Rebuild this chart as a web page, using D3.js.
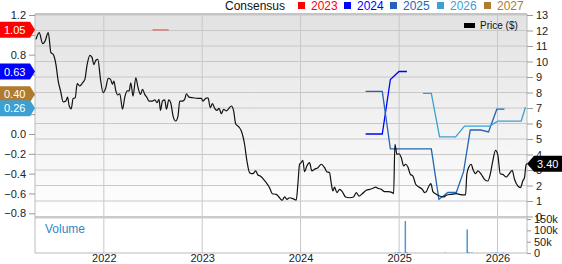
<!DOCTYPE html>
<html>
<head>
<meta charset="utf-8">
<script src="https://cdn.jsdelivr.net/npm/d3@7"></script>
<style>
  body { margin: 0; background: #fff; }
  svg { display: block; font-family: "Liberation Sans", Arial, sans-serif; }
</style>
</head>
<body>
<script>
// Zeitwerte als Dezimaljahre, Kurs in $
const priceData = [
  [2021.310, 11.43], [2021.343, 11.86], [2021.378, 11.15], [2021.401, 11.3], [2021.435, 11.86],
  [2021.462, 10.57], [2021.485, 10.46], [2021.513, 9.8], [2021.536, 8.74], [2021.560, 8.1],
  [2021.587, 7.39], [2021.614, 7.45], [2021.631, 7.7], [2021.648, 7.13], [2021.668, 6.95],
  [2021.688, 7.62], [2021.709, 7.66], [2021.729, 8.57], [2021.756, 8.42], [2021.784, 8.63],
  [2021.807, 8.85], [2021.830, 9.8], [2021.858, 10.4], [2021.881, 10.25], [2021.898, 9.8],
  [2021.919, 10.08], [2021.939, 10.14], [2021.966, 8.85], [2021.993, 7.99], [2022.020, 8.31],
  [2022.044, 8.92], [2022.068, 8.85], [2022.088, 8.53], [2022.102, 8.74], [2022.122, 8.1],
  [2022.142, 7.84], [2022.162, 7.92], [2022.190, 6.92], [2022.213, 7.7], [2022.237, 8.1],
  [2022.257, 8.1], [2022.274, 8.63], [2022.297, 7.77], [2022.325, 8.95], [2022.348, 8.31],
  [2022.373, 7.88], [2022.393, 8.21], [2022.416, 7.88], [2022.440, 7.66], [2022.460, 7.45],
  [2022.494, 7.45], [2022.518, 7.52], [2022.541, 7.34], [2022.561, 7.56], [2022.576, 6.85],
  [2022.596, 7.45], [2022.619, 7.52], [2022.637, 6.92], [2022.660, 7.52], [2022.680, 7.34],
  [2022.704, 6.48], [2022.731, 6.16], [2022.754, 6.48], [2022.772, 7.45], [2022.799, 7.45],
  [2022.822, 7.56], [2022.840, 7.92], [2022.866, 7.7], [2022.907, 7.66], [2022.957, 7.62],
  [2022.992, 7.62], [2023.008, 7.45], [2023.036, 7.62], [2023.059, 7.66], [2023.083, 7.02],
  [2023.104, 7.28], [2023.127, 6.98], [2023.150, 6.85], [2023.171, 6.98], [2023.195, 6.63],
  [2023.218, 6.92], [2023.246, 6.81], [2023.272, 6.98], [2023.296, 7.13], [2023.320, 6.81],
  [2023.340, 5.99], [2023.374, 5.77], [2023.398, 5.52], [2023.431, 4.66], [2023.455, 3.58],
  [2023.482, 2.83], [2023.516, 2.76], [2023.543, 2.94], [2023.567, 2.68], [2023.591, 2.61],
  [2023.624, 2.4], [2023.652, 2.18], [2023.685, 1.86], [2023.713, 1.47], [2023.753, 1.43],
  [2023.780, 1.26], [2023.814, 1.05], [2023.838, 1.26], [2023.861, 1.11], [2023.888, 1.21],
  [2023.922, 1.15], [2023.956, 1.06], [2023.973, 2.08], [2023.990, 3.37], [2024.007, 3.47],
  [2024.023, 3.63], [2024.041, 2.89], [2024.064, 3.26], [2024.091, 3.47], [2024.115, 2.94],
  [2024.142, 3.05], [2024.176, 3.15], [2024.210, 3.37], [2024.244, 3.15], [2024.267, 2.89],
  [2024.294, 2.83], [2024.312, 2.12], [2024.328, 1.65], [2024.345, 1.9], [2024.369, 1.54],
  [2024.396, 1.75], [2024.423, 1.6], [2024.457, 1.26], [2024.497, 1.21], [2024.538, 1.26],
  [2024.565, 1.54], [2024.592, 1.32], [2024.626, 1.47], [2024.667, 1.69], [2024.701, 1.75],
  [2024.734, 1.82], [2024.761, 1.9], [2024.785, 1.82], [2024.819, 1.75], [2024.853, 1.6],
  [2024.886, 1.6], [2024.931, 1.54], [2024.944, 1.47], [2024.957, 4.66], [2024.978, 4.01],
  [2024.998, 4.05], [2025.022, 3.79], [2025.046, 3.26], [2025.066, 3.37], [2025.089, 3.19],
  [2025.114, 2.72], [2025.140, 2.61], [2025.168, 2.08], [2025.201, 1.9], [2025.236, 1.75],
  [2025.259, 1.54], [2025.276, 1.6], [2025.303, 1.97], [2025.323, 2.12], [2025.343, 1.6],
  [2025.378, 1.43], [2025.411, 1.32], [2025.452, 1.26], [2025.485, 1.39], [2025.530, 1.43],
  [2025.581, 1.47], [2025.614, 1.43], [2025.648, 1.39], [2025.675, 1.39], [2025.688, 2.72],
  [2025.709, 3.19], [2025.733, 3.37], [2025.750, 3.05], [2025.777, 2.76], [2025.800, 2.94],
  [2025.835, 2.72], [2025.868, 2.4], [2025.902, 2.29], [2025.926, 2.72], [2025.952, 3.58],
  [2025.980, 4.27], [2026.003, 3.97], [2026.028, 2.76], [2026.054, 2.72], [2026.088, 2.55],
  [2026.115, 2.72], [2026.149, 2.98], [2026.173, 2.4], [2026.206, 1.97], [2026.234, 1.86],
  [2026.257, 2.29], [2026.274, 2.5], [2026.292, 3.37], [2026.300, 3.40]
];

// Konsens-Schätzungen (EPS) je Geschäftsjahr
const years = ["2023", "2024", "2025", "2026", "2027"];
const yearColors = ["#ff0000", "#0000ff", "#2166b5", "#3ca0d2", "#b07b2e"];
const est2023 = [[2022.495, 1.05], [2022.660, 1.05]];
const est2024 = [[2024.660, 0.0], [2024.829, 0.0], [2024.911, 0.55], [2024.998, 0.63], [2025.079, 0.63]];
const est2025 = [[2024.660, 0.43], [2024.829, 0.43], [2024.911, -0.15], [2025.327, -0.15], [2025.404, -0.66],
  [2025.495, -0.59], [2025.581, -0.59], [2025.655, -0.38], [2025.723, 0.04], [2025.830, 0.04],
  [2025.909, 0.02], [2025.993, 0.25], [2026.071, 0.25]];
const est2026 = [[2025.242, 0.41], [2025.327, 0.41], [2025.411, -0.03], [2025.574, -0.03], [2025.665, 0.08],
  [2025.919, 0.08], [2026.003, 0.13], [2026.241, 0.13], [2026.284, 0.27]];
const est2027 = [];
const estimates = [est2023, est2024, est2025, est2026, est2027];

// letzte Werte (Marker links)
const tagYears = ["2023", "2024", "2027", "2026"];
const tagValues = [1.05, 0.63, 0.40, 0.26];

// Handelsvolumen
const volumeData = [
  [2024.962, 3000], [2024.990, 4000], [2025.010, 2500], [2025.063, 141000], [2025.080, 3000],
  [2025.470, 2000], [2025.692, 104000], [2025.710, 4000], [2025.740, 2500], [2025.950, 2000],
  [2025.985, 3000], [2026.060, 2000]
];

const leftTicks = [-0.8, -0.6, -0.4, -0.2, 0.0, 0.2, 0.4, 0.6, 0.8, 1.0, 1.2];
const hiddenLeft = [0.2, 0.4, 0.6, 1.0]; // liegen unter den Markern
const rightTicks = d3.range(0, 14);
const volTicks = [0, 50000, 100000, 150000];
const volLabels = ["0", "50k", "100k", "150k"];

const width = 562, height = 264;
const L = 35, R = 527, T = 14, mainB = 217.5, volB = 253;

const dec = y => {
  const yr = Math.floor(y);
  const a = new Date(yr, 0, 1), b = new Date(yr + 1, 0, 1);
  return new Date(+a + (y - yr) * (b - a));
};

const x = d3.scaleTime().domain([dec(2021.30), dec(2026.30)]).range([L, R]);
const yL = d3.scaleLinear().domain([-0.8, 1.2]).range([213.3, 15]);
const yR = d3.scaleLinear().domain([0, 13]).range([216.5, 15]);
const yV = d3.scaleLinear().domain([0, 150000]).range([volB, 219]);

const svg = d3.select("body").append("svg")
    .attr("width", width)
    .attr("height", height);

const defs = svg.append("defs");
const grad = defs.append("linearGradient").attr("id", "bg").attr("x1", 0).attr("y1", 0).attr("x2", 0).attr("y2", 1);
grad.append("stop").attr("offset", "0%").attr("stop-color", "#e2e2e2");
grad.append("stop").attr("offset", "100%").attr("stop-color", "#ffffff");

svg.append("rect").attr("x", L).attr("y", T).attr("width", R - L).attr("height", mainB - T)
    .attr("fill", "url(#bg)");

// Gitterlinien
svg.append("g").selectAll("line").data(rightTicks).join("line")
    .attr("x1", L).attr("x2", R)
    .attr("y1", d => yR(d)).attr("y2", d => yR(d))
    .attr("stroke", "#c8c8c8").attr("stroke-width", 1);

const yearTicks = x.ticks(d3.timeYear.every(1));
svg.append("g").selectAll("line").data(yearTicks).join("line")
    .attr("x1", d => x(d)).attr("x2", d => x(d))
    .attr("y1", T).attr("y2", volB)
    .attr("stroke", "#c8c8c8");

// Rahmen
svg.append("line").attr("x1", L).attr("x2", R).attr("y1", T).attr("y2", T)
    .attr("stroke", "#c4c4c4").attr("stroke-width", 2);
svg.append("line").attr("x1", L).attr("x2", R).attr("y1", mainB).attr("y2", mainB)
    .attr("stroke", "#cccccc").attr("stroke-width", 2);
svg.append("line").attr("x1", L).attr("x2", L).attr("y1", T).attr("y2", volB).attr("stroke", "#bbbbbb");
svg.append("line").attr("x1", R).attr("x2", R).attr("y1", T).attr("y2", volB).attr("stroke", "#bbbbbb");
svg.append("line").attr("x1", L).attr("x2", R).attr("y1", volB).attr("y2", volB).attr("stroke", "#bbbbbb");

// Achsen
const axisL = svg.append("g").attr("transform", `translate(${L},0)`)
    .call(d3.axisLeft(yL).tickValues(leftTicks)
      .tickFormat(d => hiddenLeft.some(h => Math.abs(h - d) < 1e-9) ? "" : d3.format(".1f")(d))
      .tickSize(6).tickPadding(3));
const axisR = svg.append("g").attr("transform", `translate(${R},0)`)
    .call(d3.axisRight(yR).tickValues(rightTicks).tickSize(6).tickPadding(3));
const axisV = svg.append("g").attr("transform", `translate(${R},0)`)
    .call(d3.axisRight(yV).tickValues(volTicks).tickFormat((d, i) => volLabels[i]).tickSize(4).tickPadding(3));
const axisB = svg.append("g").attr("transform", `translate(0,${volB})`)
    .call(d3.axisBottom(x).ticks(d3.timeYear.every(1)).tickFormat(d3.timeFormat("%Y")).tickSize(0).tickPadding(2));

[axisL, axisR, axisV, axisB].forEach(a => {
  a.select(".domain").remove();
  a.selectAll(".tick line").attr("stroke", "#999");
  a.selectAll("text").attr("fill", "#222").attr("font-size", 11)
      .attr("font-family", "'Liberation Sans', Arial, sans-serif");
});
axisB.selectAll("text").attr("dy", "0.68em");

// Volumen
svg.append("text").attr("x", 45).attr("y", 233).attr("fill", "#2f88c8")
    .attr("font-size", 12).text("Volume");
svg.append("g").selectAll("rect").data(volumeData).join("rect")
    .attr("x", d => x(dec(d[0])) - 0.75).attr("width", 1.5)
    .attr("y", d => yV(d[1])).attr("height", d => volB - yV(d[1]))
    .attr("fill", "#4f96d4");

// Konsenslinien
const lineL = d3.line().x(d => x(dec(d[0]))).y(d => yL(d[1]));
svg.append("g").selectAll("path").data(estimates).join("path")
    .attr("d", d => d.length ? lineL(d) : null)
    .attr("fill", "none")
    .attr("stroke", (d, i) => yearColors[i])
    .attr("stroke-opacity", (d, i) => i === 0 ? 0.55 : 1)
    .attr("stroke-width", 1.3);

// Kurslinie
const lineR = d3.line().x(d => x(dec(d[0]))).y(d => yR(d[1])).curve(d3.curveMonotoneX);
svg.append("path").datum(priceData)
    .attr("d", lineR)
    .attr("fill", "none").attr("stroke", "#111").attr("stroke-width", 1.2);

// Marker links
const tags = svg.append("g").selectAll("g").data(tagValues).join("g")
    .attr("transform", d => `translate(0,${yL(d)})`);
tags.append("path")
    .attr("d", "M0,-8H30L35,0L30,8H0Z")
    .attr("fill", (d, i) => yearColors[years.indexOf(tagYears[i])]);
tags.append("text").attr("x", 4).attr("y", 4).attr("fill", "#fff").attr("font-size", 11)
    .text(d => d3.format(".2f")(d));

// Marker rechts
const last = priceData[priceData.length - 1];
const pt = svg.append("g").attr("transform", `translate(${R},${yR(last[1])})`);
pt.append("path").attr("d", "M0,0L7,-8H35V8H7Z").attr("fill", "#000");
pt.append("text").attr("x", 10).attr("y", 4).attr("fill", "#fff").attr("font-size", 11)
    .text(d3.format(".2f")(last[1]));

// Legende oben
svg.append("text").attr("x", 225).attr("y", 10).attr("font-size", 12).attr("fill", "#111").text("Consensus");
const legX = [311, 357, 403, 450, 497];
const leg = svg.append("g").selectAll("g").data(years).join("g");
leg.append("rect").attr("x", (d, i) => legX[i] - 13).attr("y", 2).attr("width", 7).attr("height", 7)
    .attr("fill", (d, i) => yearColors[i]);
leg.append("text").attr("x", (d, i) => legX[i]).attr("y", 10).attr("font-size", 12)
    .attr("fill", (d, i) => yearColors[i]).text(d => d);

// Legende Kurs
svg.append("rect").attr("x", 464).attr("y", 23).attr("width", 11).attr("height", 5).attr("fill", "#000");
svg.append("text").attr("x", 480).attr("y", 29).attr("font-size", 10).attr("fill", "#111").text("Price ($)");
</script>
</body>
</html>
